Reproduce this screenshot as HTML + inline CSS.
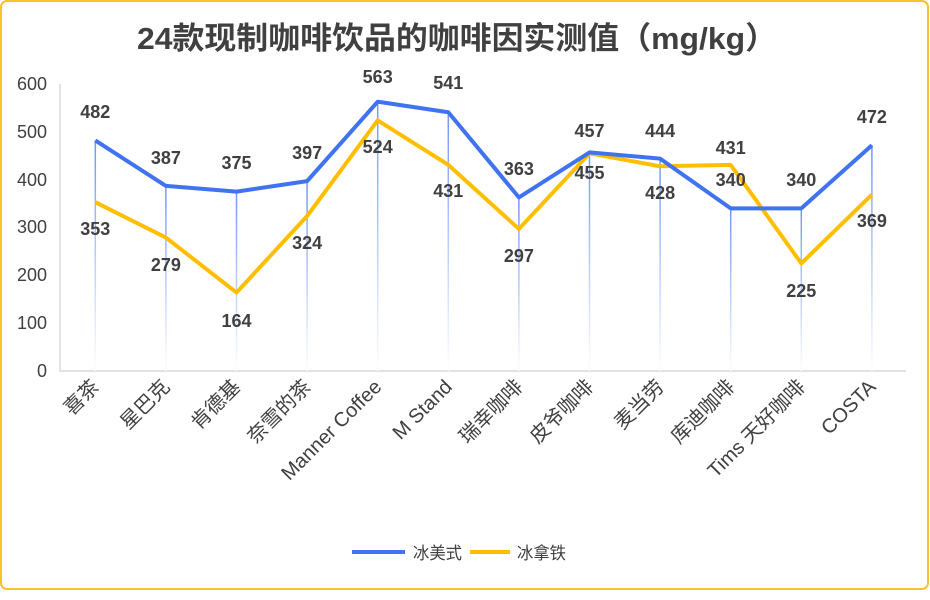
<!DOCTYPE html><html><head><meta charset="utf-8"><style>
body{margin:0;background:#fff}
svg{display:block;font-family:"Liberation Sans","Noto Sans CJK SC",sans-serif}
</style></head><body>
<svg width="930" height="600" viewBox="0 0 930 600">
<defs><linearGradient id="g" x1="0" y1="0" x2="0" y2="1"><stop offset="0" stop-color="#6f98f5"/><stop offset="1" stop-color="#fff"/></linearGradient></defs>
<rect x="1" y="1" width="927" height="588" rx="6" fill="#fff" stroke="#fbc02d" stroke-width="2"/>
<text x="457" y="49" text-anchor="middle" font-size="31" font-weight="bold" fill="#404040" textLength="640" lengthAdjust="spacingAndGlyphs">24款现制咖啡饮品的咖啡因实测值（mg/kg）</text>
<g font-size="18" fill="#404040" text-anchor="end">
<text x="47" y="90">600</text><text x="47" y="138">500</text><text x="47" y="186">400</text><text x="47" y="233">300</text><text x="47" y="281">200</text><text x="47" y="329">100</text><text x="47" y="377">0</text></g>
<path d="M60 84V371H906" fill="none" stroke="#d9d9d9" stroke-width="1.5"/>
<g id="drops"></g>
<script>
var xs=[],b=[482,387,375,397,563,541,363,457,444,340,340,472],y=[353,279,164,324,524,431,297,455,428,431,225,369];
for(var i=0;i<12;i++)xs.push(95.3+i*70.6);
function Y(v){return 371-v*0.4783;}
var ns="http://www.w3.org/2000/svg",s=document.currentScript.parentNode,d=s.querySelector('#drops');
xs.forEach(function(x,i){var r=document.createElementNS(ns,'rect');r.setAttribute('x',x-0.75);r.setAttribute('y',Y(b[i]));r.setAttribute('width',1.5);r.setAttribute('height',371-Y(b[i]));r.setAttribute('fill','url(#g)');d.appendChild(r);});
function line(a,c){var p=document.createElementNS(ns,'polyline');p.setAttribute('points',xs.map(function(x,i){return x+','+Y(a[i])}).join(' '));p.setAttribute('fill','none');p.setAttribute('stroke',c);p.setAttribute('stroke-width',4);p.setAttribute('stroke-linejoin','round');s.appendChild(p);}
line(y,'#ffbf00');line(b,'#3f73f0');
var bl=[118,164,169,159,83,89,175,137,137,186,186,123],yl=[235,271,327,249,153,197,262,179,199,154,297,227];
xs.forEach(function(x,i){[[b[i],bl[i]],[y[i],yl[i]]].forEach(function(q){var t=document.createElementNS(ns,'text');t.setAttribute('x',x);t.setAttribute('y',q[1]);t.setAttribute('text-anchor','middle');t.setAttribute('font-size','18');t.setAttribute('font-weight','bold');t.setAttribute('fill','#404040');t.textContent=q[0];s.appendChild(t);});});
var cats=['喜茶','星巴克','肯德基','奈雪的茶','Manner Coffee','M Stand','瑞幸咖啡','皮爷咖啡','麦当劳','库迪咖啡','Tims 天好咖啡','COSTA'];
xs.forEach(function(x,i){var t=document.createElementNS(ns,'text');t.setAttribute('transform','translate('+(x+5)+',388) rotate(-45)');t.setAttribute('text-anchor','end');t.setAttribute('font-size','20');t.setAttribute('fill','#404040');t.textContent=cats[i];s.appendChild(t);});
</script>
<line x1="352" y1="552" x2="405" y2="552" stroke="#3f73f0" stroke-width="4"/>
<text x="413" y="559" font-size="17" fill="#404040" textLength="49" lengthAdjust="spacingAndGlyphs">冰美式</text>
<line x1="470" y1="552" x2="510" y2="552" stroke="#ffbf00" stroke-width="4"/>
<text x="517" y="559" font-size="17" fill="#404040" textLength="49" lengthAdjust="spacingAndGlyphs">冰拿铁</text>
</svg></body></html>
